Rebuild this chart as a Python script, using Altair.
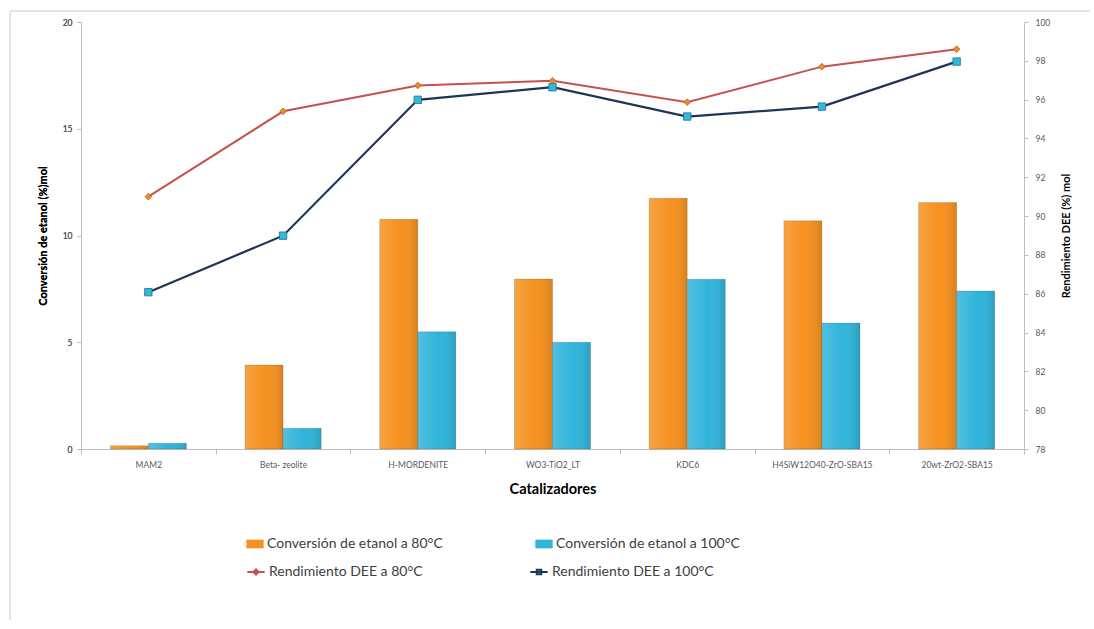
import altair as alt
import pandas as pd

# Catalizadores evaluados (eje X)
categorias = ["MAM2", "Beta- zeolite", "H-MORDENITE", "WO3-TiO2_LT", "KDC6",
              "H4SiW12O40-ZrO-SBA15", "20wt-ZrO2-SBA15"]

# Conversión de etanol (%) mol, eje izquierdo
conv_80 = [0.15, 3.93, 10.76, 7.96, 11.74, 10.69, 11.55]
conv_100 = [0.27, 0.97, 5.49, 5.0, 7.95, 5.9, 7.4]

# Rendimiento DEE (%) mol, eje derecho
rend_80 = [91.0, 95.4, 96.73, 96.97, 95.87, 97.7, 98.6]
rend_100 = [86.08, 88.99, 95.99, 96.64, 95.13, 95.64, 97.96]

series_conv = ["Conversión de etanol a 80°C", "Conversión de etanol a 100°C"]
series_rend = ["Rendimiento DEE a 80°C", "Rendimiento DEE a 100°C"]

n = len(categorias)
df_conv = pd.DataFrame({
    "catalizador": categorias * 2,
    "serie": [series_conv[0]] * n + [series_conv[1]] * n,
    "conversion": conv_80 + conv_100,
})
df_rend = pd.DataFrame({
    "catalizador": categorias * 2,
    "serie": [series_rend[0]] * n + [series_rend[1]] * n,
    "rendimiento": rend_80 + rend_100,
})

NARANJA = "#f5911f"
CELESTE = "#30b4da"
LINEA_80 = "#c4524e"
LINEA_100 = "#1f3556"
MARCA_80 = "#ec8a2c"
MARCA_100 = "#33b9df"
FUENTE = "Lato"

x_enc = alt.X(
    "catalizador:N",
    sort=categorias,
    scale=alt.Scale(type="band", domain=categorias, paddingInner=0, paddingOuter=0),
    axis=alt.Axis(
        title="Catalizadores", labelAngle=0, tickBand="extent", tickSize=5,
        labelFontSize=8.5, labelPadding=6, titleFontSize=14.5, titleFontWeight="bold",
        titleColor="#000000", titlePadding=14,
    ),
)

x_offset = alt.XOffset(
    "serie:N", sort=series_conv,
    scale=alt.Scale(domain=series_conv, paddingInner=0, paddingOuter=0.77),
)

y_conv = alt.Y(
    "conversion:Q",
    scale=alt.Scale(domain=[0, 20], nice=False),
    axis=alt.Axis(
        title="Conversión de etanol (%)mol", values=[0, 5, 10, 15, 20], grid=False,
        orient="left", tickSize=4, labelFontSize=8.5, labelPadding=5,
        titleFontSize=11, titleFontWeight="bold", titleColor="#000000", titlePadding=14,
    ),
)

y_rend = alt.Y(
    "rendimiento:Q",
    scale=alt.Scale(domain=[78, 100], nice=False, zero=False),
    axis=alt.Axis(
        title="Rendimiento DEE (%) mol", values=list(range(78, 101, 2)), grid=False,
        orient="right", tickSize=4, labelFontSize=8.5, labelPadding=7,
        titleFontSize=11, titleFontWeight="bold", titleColor="#000000", titlePadding=22,
        titleAngle=270,
    ),
)

leyenda_conv = alt.Legend(
    title=None, orient="none", legendX=165, legendY=513, direction="horizontal",
    columns=2, columnPadding=92, labelFont=FUENTE, labelFontSize=14, labelColor="#404040",
    labelLimit=400, labelOffset=3, symbolType="M-1,-0.5H1V0.5H-1Z", symbolSize=300,
    symbolStrokeWidth=0,
)
leyenda_rend = alt.Legend(
    title=None, orient="none", legendX=165, legendY=540, direction="horizontal",
    columns=2, columnPadding=103, labelFont=FUENTE, labelFontSize=14, labelColor="#404040",
    labelLimit=400, labelOffset=3, symbolSize=300, symbolStrokeWidth=1.8,
)

# Marco exterior de la figura
marco = alt.Chart(pd.DataFrame({"k": [0]})).mark_rect(
    filled=False, stroke="#c8c8c8", strokeWidth=1
).encode(x=alt.value(-71), x2=alt.value(1100), y=alt.value(-11), y2=alt.value(700))

barras = alt.Chart(df_conv).mark_bar(stroke="#000000", strokeOpacity=0.18, strokeWidth=0.8).encode(
    x=x_enc,
    xOffset=x_offset,
    y=y_conv,
    color=alt.Color(
        "serie:N", scale=alt.Scale(domain=series_conv, range=[NARANJA, CELESTE]),
        legend=leyenda_conv,
    ),
)

# Sombreado horizontal que da volumen a cada barra
brillo = {
    "gradient": "linear", "x1": 0, "y1": 0, "x2": 1, "y2": 0,
    "stops": [
        {"offset": 0, "color": "rgba(255,255,255,0.16)"},
        {"offset": 0.55, "color": "rgba(255,255,255,0)"},
        {"offset": 1, "color": "rgba(0,0,0,0.12)"},
    ],
}
volumen = alt.Chart(df_conv).mark_bar(strokeWidth=0).encode(
    x=x_enc, xOffset=x_offset, y=y_conv, color=alt.value(brillo),
)

d80 = df_rend[df_rend["serie"] == series_rend[0]]
d100 = df_rend[df_rend["serie"] == series_rend[1]]

linea80 = alt.Chart(d80).mark_line(color=LINEA_80, strokeWidth=2).encode(x=x_enc, y=y_rend)
linea100 = alt.Chart(d100).mark_line(color=LINEA_100, strokeWidth=2.2).encode(x=x_enc, y=y_rend)
puntos80 = alt.Chart(d80).mark_point(
    shape="diamond", filled=True, size=45, fill=MARCA_80, stroke="#b0602a",
    strokeWidth=0.8, opacity=1,
).encode(x=x_enc, y=y_rend)
puntos100 = alt.Chart(d100).mark_point(
    shape="square", filled=True, size=55, fill=MARCA_100, stroke="#1d6f8a",
    strokeWidth=0.8, opacity=1,
).encode(x=x_enc, y=y_rend)

# Capa sin marcas visibles que aporta los símbolos línea+marcador de la leyenda
simbolo_80 = "M-1,0H1M0,-0.32L0.32,0L0,0.32L-0.32,0Z"
simbolo_100 = "M-1,0H1M-0.27,-0.27H0.27V0.27H-0.27Z"
leyenda_lineas = alt.Chart(df_rend).transform_filter("false").mark_point(
    filled=True, opacity=1
).encode(
    shape=alt.Shape("serie:N", scale=alt.Scale(domain=series_rend, range=[simbolo_80, simbolo_100]),
                    legend=leyenda_rend),
    fill=alt.Fill("serie:N", scale=alt.Scale(domain=series_rend, range=[MARCA_80, MARCA_100]),
                  legend=leyenda_rend),
    stroke=alt.Stroke("serie:N", scale=alt.Scale(domain=series_rend, range=[LINEA_80, LINEA_100]),
                      legend=leyenda_rend),
)

lineas = alt.layer(linea80, linea100, puntos80, puntos100, leyenda_lineas)

chart = alt.layer(marco, barras, volumen, lineas).resolve_scale(
    y="independent"
).properties(
    width=943,
    height=427,
    padding={"left": 81, "top": 22, "right": 66, "bottom": 171},
    autosize=alt.AutoSizeParams(type="none"),
    background="#ffffff",
).configure_view(
    fill="#f2f2f2", strokeWidth=0
).configure_axis(
    domainColor="#bfbfbf", tickColor="#bfbfbf", labelColor="#595959",
    labelFont=FUENTE, titleFont=FUENTE,
)

chart.save("out.html", embed_options={"renderer": "svg", "actions": False})
